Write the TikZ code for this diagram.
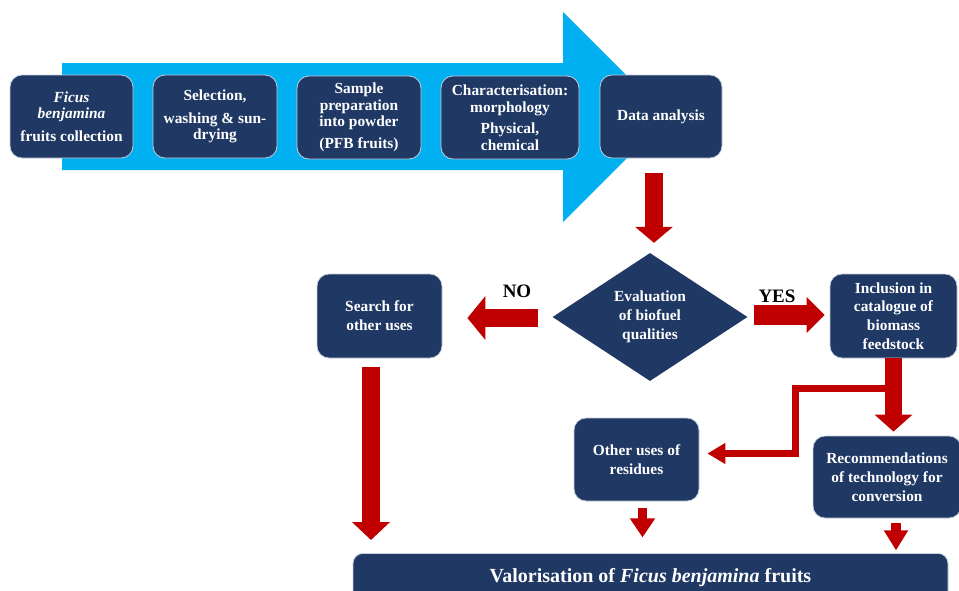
\documentclass[tikz,border=0pt]{standalone}
\usepackage{fontspec}
\setmainfont{Liberation Serif}
\usetikzlibrary{shapes.geometric,arrows.meta,calc}
\definecolor{navy}{HTML}{1F3864}
\definecolor{skyarrow}{HTML}{00B0F0}
\definecolor{darkred}{HTML}{C00000}
\definecolor{rim}{HTML}{C5CEDD}

\tikzset{
  stagebox/.style={draw=rim, line width=0.8pt, fill=navy, rounded corners=12pt, text=white,
    font=\bfseries\fontsize{15.4}{16.5}\selectfont, align=center, inner sep=0pt},
  resultbox/.style={stagebox, font=\bfseries\fontsize{15.4}{18.8}\selectfont},
  block/.style n args={3}{draw=darkred, line width=#1, -{Triangle[length=#2,width=#3]}},
}

\begin{document}
\begin{tikzpicture}[x=1pt,y=-1pt]
\useasboundingbox (0,0) rectangle (959,590);
\clip (0,0) rectangle (959,590);
\fill[skyarrow] (62,63) -- (563,63) -- (563,12) -- (668,117) -- (563,222) -- (563,170) -- (62,170) -- cycle;

\node[stagebox, minimum width=123pt, minimum height=83pt] (collect) at (71.5,116.5) {\textit{Ficus}\\ \textit{benjamina}\\[6pt] fruits collection};
\node[stagebox, minimum width=124pt, minimum height=83pt] (select) at (215,116.5) {Selection,\\[6pt] washing \& sun-\\ drying};
\node[stagebox, minimum width=124pt, minimum height=83pt] (sample) at (359,117.5) {Sample\\ preparation\\ into powder\\[5pt] (PFB fruits)};
\node[stagebox, minimum width=138pt, minimum height=83pt] (charac) at (510,117.5) {Characterisation:\\ morphology\\[5pt] Physical,\\ chemical};
\node[stagebox, minimum width=122pt, minimum height=83pt] (data) at (661,116.5) {Data analysis};

\node[diamond, aspect=1.5, fill=navy, text=white, align=center, inner sep=0pt,
  minimum width=195pt, minimum height=128pt, font=\bfseries\fontsize{15.4}{19}\selectfont] (eval) at (650,317) {Evaluation\\ of biofuel\\ qualities};
\node[resultbox, minimum width=125pt, minimum height=84pt] (search) at (379.5,316) {Search for\\ other uses};
\node[resultbox, minimum width=127pt, minimum height=84pt] (incl) at (893.5,316) {Inclusion in\\ catalogue of\\ biomass\\ feedstock};
\node[resultbox, minimum width=125pt, minimum height=83pt] (other) at (636.5,459.5) {Other uses of\\ residues};
\node[resultbox, minimum width=148pt, minimum height=82pt] (rec) at (887,477) {Recommendations\\ of technology for\\ conversion};
\node[resultbox, rounded corners=10pt, anchor=north, minimum width=595pt, inner ysep=0pt,
  text height=29pt, text depth=20pt, font=\bfseries\fontsize{20}{24}\selectfont] (valor) at (650.5,553) {Valorisation of \textit{Ficus benjamina} fruits};

\node[font=\bfseries\fontsize{19}{22}\selectfont] (no) at (517,291) {NO};
\node[font=\bfseries\fontsize{19}{22}\selectfont] (yes) at (777,296) {YES};

\draw[block={18pt}{16pt}{37pt}] ($(data.south)+(-7,15)$) -- ($(eval.north)+(4,-10)$);
\draw[block={18pt}{18pt}{43pt}] ($(eval.west)+(-14,1)$) -- ($(search.east)+(25,2)$);
\draw[block={20pt}{18pt}{35pt}] ($(eval.east)+(6,-2)$) -- ($(incl.west)+(-5,-1)$);
\draw[block={18pt}{18pt}{37pt}] ($(search.south)+(-8.5,9)$) -- ($(search.south |- valor.north)+(-8.5,-13)$);
\draw[block={7pt}{18pt}{20pt}] ($(incl.south)+(-4,30)$) -- ++(-94,0) |- ($(other.east)+(8,-6)$);
\draw[block={17pt}{17pt}{37pt}] (incl.south) -- ($(incl.south |- rec.north)+(0,-4)$);
\draw[block={9pt}{19pt}{24pt}] ($(other.south)+(6,7)$) -- ($(other.south)+(6,36)$);
\draw[block={10pt}{20pt}{23pt}] ($(rec.south)+(9,5)$) -- ($(rec.south)+(9,32)$);
\end{tikzpicture}
\end{document}
